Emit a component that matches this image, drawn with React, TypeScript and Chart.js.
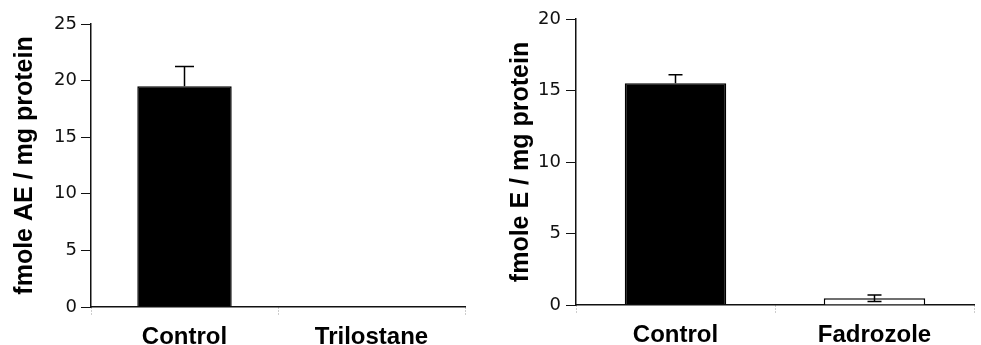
import React, { useEffect, useRef } from "react";
import { Chart, registerables } from "chart.js";

Chart.register(...registerables);

// Left panel data
const leftCategories = ["Control", "Trilostane"];
const leftValues = [19.5, 0];
const leftErrUp = [1.75, 0];
const leftErrDown = [0, 0];
const leftYMax = 25;
const leftYStep = 5;
const leftTitle = "fmole AE / mg protein";
const leftColors = ["#000000", "#ffffff"];

// Right panel data
const rightCategories = ["Control", "Fadrozole"];
const rightValues = [15.5, 0.47];
const rightErrUp = [0.6, 0.23];
const rightErrDown = [0, 0.23];
const rightYMax = 20;
const rightYStep = 5;
const rightTitle = "fmole E / mg protein";
const rightColors = ["#000000", "#ffffff"];

const H = 345;

type Panel = {
  categories: string[];
  values: number[];
  errUp: number[];
  errDown: number[];
  yMax: number;
  yStep: number;
  title: string;
  colors: string[];
  width: number;
  areaLeft: number;
  areaRight: number;
  areaTop: number;
  areaBottom: number;
  titlePad: number;
  tickPad: number;
  barPct: number;
  capW: number;
};

const errorBarPlugin = {
  id: "errorBars",
  afterDatasetsDraw(chart: any, _args: any, opts: any) {
    const { ctx } = chart;
    const meta = chart.getDatasetMeta(0);
    const ys = chart.scales.y;
    const vals: number[] = opts.values;
    const up: number[] = opts.up;
    const down: number[] = opts.down;
    const cw: number = opts.capW;
    ctx.save();
    ctx.strokeStyle = "#000";
    ctx.lineWidth = 1.5;
    meta.data.forEach((bar: any, i: number) => {
      if (!up[i] && !down[i]) return;
      const x = bar.x;
      const yTop = ys.getPixelForValue(vals[i] + up[i]);
      const yBot = ys.getPixelForValue(vals[i] - down[i]);
      ctx.beginPath();
      ctx.moveTo(x, yBot);
      ctx.lineTo(x, yTop);
      if (up[i]) {
        ctx.moveTo(x - cw / 2, yTop);
        ctx.lineTo(x + cw / 2, yTop);
      }
      if (down[i]) {
        ctx.moveTo(x - cw / 2, yBot);
        ctx.lineTo(x + cw / 2, yBot);
      }
      ctx.stroke();
    });
    ctx.restore();
  },
};

function BarPanel({ p, left }: { p: Panel; left: number }) {
  const ref = useRef<HTMLCanvasElement>(null);
  useEffect(() => {
    if (!ref.current) return;
    const chart = new Chart(ref.current, {
      type: "bar",
      data: {
        labels: p.categories,
        datasets: [
          {
            data: p.values,
            backgroundColor: p.colors,
            borderColor: "#000",
            borderWidth: 1.5,
            categoryPercentage: 1,
            barPercentage: p.barPct,
          },
        ],
      },
      plugins: [errorBarPlugin],
      options: {
        animation: false,
        responsive: false,
        devicePixelRatio: 1,
        layout: {
          padding: {
            left: 0,
            top: p.areaTop,
            right: p.width - p.areaRight,
            bottom: 0,
          },
        },
        plugins: {
          legend: { display: false },
          tooltip: { enabled: false },
          errorBars: {
            values: p.values,
            up: p.errUp,
            down: p.errDown,
            capW: p.capW,
          },
        } as any,
        scales: {
          x: {
            afterFit: (s: any) => {
              s.height = H - p.areaBottom;
            },
            grid: {
              drawOnChartArea: false,
              drawTicks: true,
              tickLength: 9,
              tickColor: "#9a9a9a",
              tickBorderDash: [1, 2],
              tickWidth: 1,
              offset: true,
            },
            border: { display: true, color: "#111", width: 1.5 },
            ticks: {
              color: "#000",
              padding: 7,
              font: { family: "Liberation Sans, Arial, sans-serif", size: 24, weight: "bold" },
            },
          },
          y: {
            min: 0,
            max: p.yMax,
            afterFit: (s: any) => {
              s.width = p.areaLeft;
            },
            grid: {
              drawOnChartArea: false,
              drawTicks: true,
              tickLength: 10,
              tickColor: "#111",
              tickWidth: 1,
            },
            border: { display: true, color: "#111", width: 1.5 },
            ticks: {
              stepSize: p.yStep,
              color: "#111",
              padding: p.tickPad,
              font: { family: "'DejaVu Sans', sans-serif", size: 18 },
            },
            title: {
              display: true,
              text: p.title,
              color: "#000",
              padding: { top: p.titlePad, bottom: 0 },
              font: { family: "Liberation Sans, Arial, sans-serif", size: 25, weight: "bold" },
            },
          },
        },
      } as any,
    });
    return () => chart.destroy();
  }, []);
  return (
    <canvas
      ref={ref}
      width={p.width}
      height={H}
      style={{ position: "absolute", left, top: 0, width: p.width, height: H }}
    />
  );
}

const leftPanel: Panel = {
  categories: leftCategories,
  values: leftValues,
  errUp: leftErrUp,
  errDown: leftErrDown,
  yMax: leftYMax,
  yStep: leftYStep,
  title: leftTitle,
  colors: leftColors,
  width: 490,
  areaLeft: 91,
  areaRight: 465,
  areaTop: 24,
  areaBottom: 307,
  titlePad: 10,
  tickPad: 4,
  barPct: 0.505,
  capW: 19,
};

const rightPanel: Panel = {
  categories: rightCategories,
  values: rightValues,
  errUp: rightErrUp,
  errDown: rightErrDown,
  yMax: rightYMax,
  yStep: rightYStep,
  title: rightTitle,
  colors: rightColors,
  width: 491,
  areaLeft: 86,
  areaRight: 484,
  areaTop: 19,
  areaBottom: 305,
  titlePad: 16,
  tickPad: 5,
  barPct: 0.51,
  capW: 14,
};

export default function App() {
  return (
    <div style={{ position: "absolute", left: 0, top: 0, width: 981, height: H, background: "#fff", overflow: "hidden" }}>
      <BarPanel p={leftPanel} left={0} />
      <BarPanel p={rightPanel} left={490} />
    </div>
  );
}
